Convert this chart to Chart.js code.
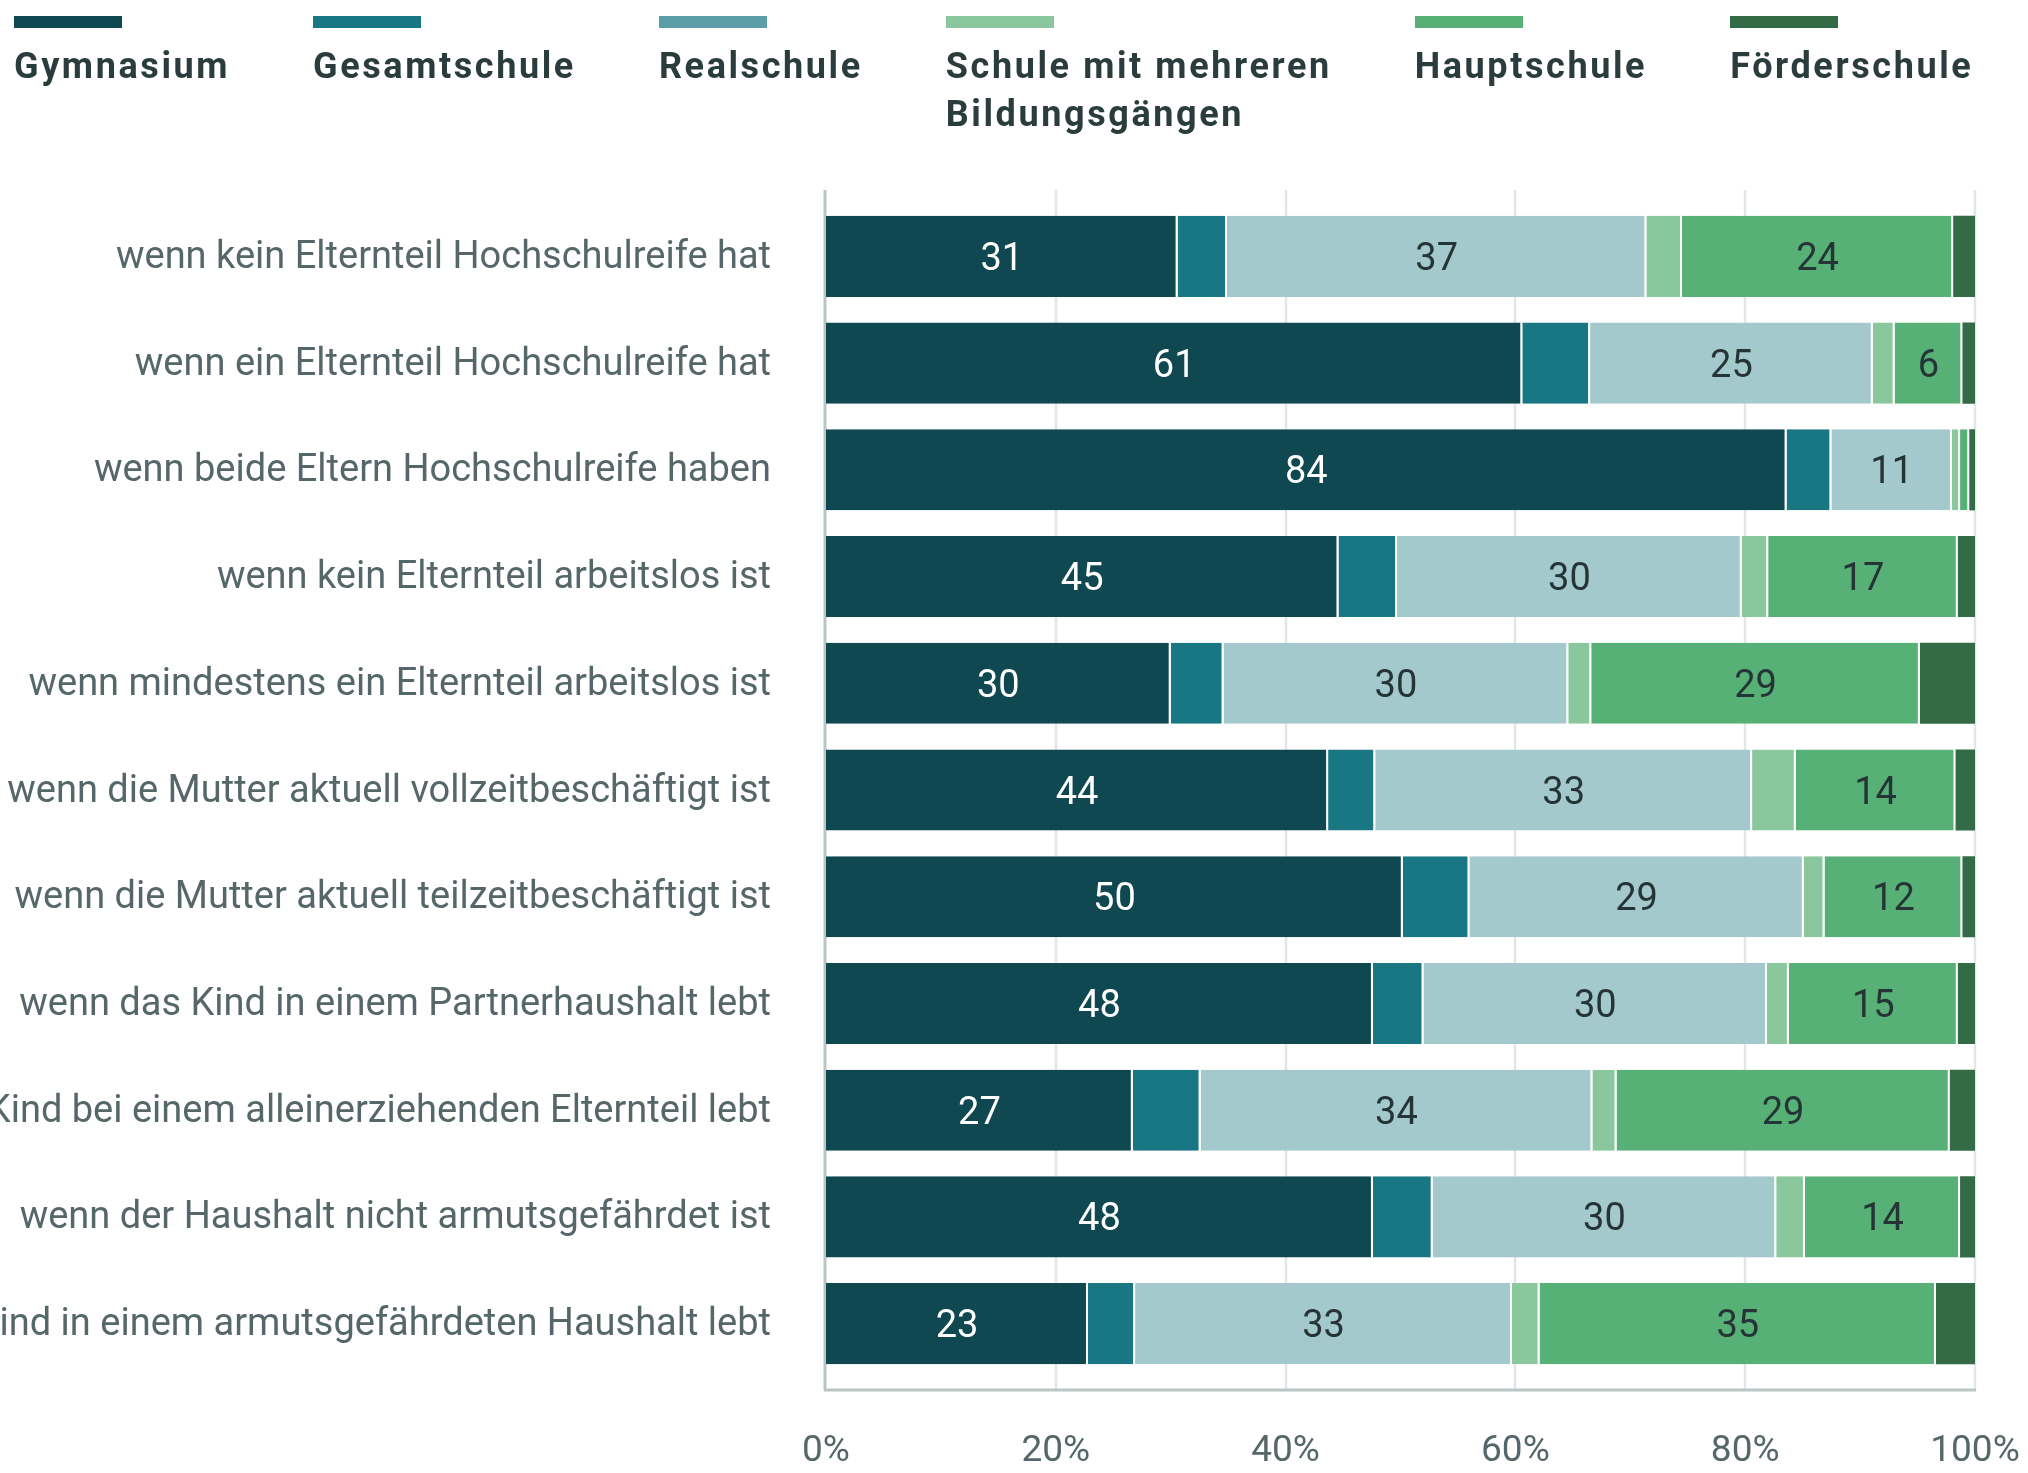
<!DOCTYPE html>
<html lang="de">
<head>
<meta charset="utf-8">
<title>Schulform nach Familienmerkmalen</title>
<script src="https://cdn.jsdelivr.net/npm/chart.js@4.4.1/dist/chart.umd.min.js"></script>
<style>
  body { margin: 0; background: #fff; }
  #wrap { position: relative; width: 2028px; height: 1473px; overflow: hidden; }
  #chart { position: absolute; left: 0; top: 0; }
  #legend { position: absolute; left: 14px; top: 0; display: flex; gap: 83px; align-items: flex-start;
            font-family: Roboto, "Noto Sans", sans-serif; font-weight: 700; font-size: 36px;
            letter-spacing: 2.6px; color: #2b3c3d; }
  .item .swatch { width: 108px; height: 12px; margin-top: 16px; }
  .item .text { margin-top: 14px; line-height: 48px; white-space: nowrap; }
</style>
</head>
<body>
<div id="wrap">
  <canvas id="chart" width="2028" height="1473"></canvas>
  <div id="legend"></div>
</div>
<script>
// Kategorien (y-Achse)
const categories = [
  "wenn kein Elternteil Hochschulreife hat",
  "wenn ein Elternteil Hochschulreife hat",
  "wenn beide Eltern Hochschulreife haben",
  "wenn kein Elternteil arbeitslos ist",
  "wenn mindestens ein Elternteil arbeitslos ist",
  "wenn die Mutter aktuell vollzeitbeschäftigt ist",
  "wenn die Mutter aktuell teilzeitbeschäftigt ist",
  "wenn das Kind in einem Partnerhaushalt lebt",
  "wenn das Kind bei einem alleinerziehenden Elternteil lebt",
  "wenn der Haushalt nicht armutsgefährdet ist",
  "wenn das Kind in einem armutsgefährdeten Haushalt lebt"
];

// Anteile in Prozent je Schulform
const gymnasium     = [30.6, 60.6, 83.6, 44.6, 30.0, 43.7, 50.2, 47.6, 26.7, 47.6, 22.8];
const gesamtschule  = [4.3, 5.9, 3.9, 5.1, 4.6, 4.1, 5.8, 4.4, 5.9, 5.2, 4.1];
const realschule    = [36.5, 24.6, 10.5, 30.0, 30.0, 32.8, 29.1, 29.9, 34.1, 29.9, 32.8];
const mehrereGaenge = [3.1, 1.9, 0.7, 2.3, 2.0, 3.8, 1.8, 1.9, 2.1, 2.5, 2.4];
const hauptschule   = [23.6, 5.9, 0.8, 16.5, 28.6, 13.9, 12.0, 14.7, 29.0, 13.5, 34.5];
const foerderschule = [1.9, 1.1, 0.5, 1.5, 4.8, 1.7, 1.1, 1.5, 2.2, 1.3, 3.4];

// x-Achse
const xTicks = [0, 20, 40, 60, 80, 100];

const series = [
  { name: "Gymnasium", lines: ["Gymnasium"], data: gymnasium, color: "#0f4850", legend: "#0f4850", label: "#ffffff" },
  { name: "Gesamtschule", lines: ["Gesamtschule"], data: gesamtschule, color: "#187783", legend: "#187783", label: null },
  { name: "Realschule", lines: ["Realschule"], data: realschule, color: "#a4c9cd", legend: "#5b9ea7", label: "#253536" },
  { name: "Schule mit mehreren Bildungsgängen", lines: ["Schule mit mehreren", "Bildungsgängen"], data: mehrereGaenge, color: "#8ac79c", legend: "#8ac79c", label: null },
  { name: "Hauptschule", lines: ["Hauptschule"], data: hauptschule, color: "#57b076", legend: "#57b076", label: "#253536" },
  { name: "Förderschule", lines: ["Förderschule"], data: foerderschule, color: "#336b47", legend: "#336b47", label: null }
];

// HTML-Legende oben
const legendEl = document.getElementById("legend");
series.forEach(s => {
  const item = document.createElement("div");
  item.className = "item";
  const sw = document.createElement("div");
  sw.className = "swatch";
  sw.style.background = s.legend;
  const txt = document.createElement("div");
  txt.className = "text";
  s.lines.forEach((l, i) => {
    if (i > 0) txt.appendChild(document.createElement("br"));
    txt.appendChild(document.createTextNode(l));
  });
  item.appendChild(sw);
  item.appendChild(txt);
  legendEl.appendChild(item);
});

const EXT = 13; // Gitter ragt etwas über die Kategorien hinaus

// Gitterlinien + Achsenlinien selbst zeichnen
const gridPlugin = {
  id: "gridPlugin",
  beforeDatasetsDraw(chart) {
    const { ctx, chartArea } = chart;
    const x = chart.scales.x;
    const top = chartArea.top - EXT;
    const bottom = chartArea.bottom + EXT;
    ctx.save();
    ctx.strokeStyle = "#e1e6e6";
    ctx.lineWidth = 2.5;
    xTicks.forEach(t => {
      if (t === 0) return;
      const px = Math.round(x.getPixelForValue(t));
      ctx.beginPath();
      ctx.moveTo(px, top);
      ctx.lineTo(px, bottom);
      ctx.stroke();
    });
    ctx.strokeStyle = "#bac5c6";
    ctx.lineWidth = 3;
    const x0 = x.getPixelForValue(0);
    ctx.beginPath();
    ctx.moveTo(x0 - 1, top);
    ctx.lineTo(x0 - 1, bottom);
    ctx.stroke();
    ctx.beginPath();
    ctx.moveTo(x0 - 2, bottom);
    ctx.lineTo(x.getPixelForValue(100) + 1, bottom);
    ctx.stroke();
    ctx.restore();
  }
};

// Zahlen in die Balken
const valueLabels = {
  id: "valueLabels",
  afterDatasetsDraw(chart) {
    const { ctx } = chart;
    ctx.save();
    ctx.font = "38px Roboto, 'Noto Sans', sans-serif";
    ctx.textAlign = "center";
    ctx.textBaseline = "middle";
    chart.data.datasets.forEach((ds, i) => {
      const s = series[i];
      if (!s.label) return;
      chart.getDatasetMeta(i).data.forEach((bar, j) => {
        const v = ds.data[j];
        if (v < 5) return;
        const cx = (bar.x + bar.base) / 2;
        ctx.fillStyle = s.label;
        ctx.fillText(String(Math.round(v)), cx, bar.y + 4);
      });
    });
    ctx.restore();
  }
};

const ctx = document.getElementById("chart").getContext("2d");
new Chart(ctx, {
  type: "bar",
  data: {
    labels: categories,
    datasets: series.map((s, i) => ({
      label: s.name,
      data: s.data,
      backgroundColor: s.color,
      borderColor: "#ffffff",
      borderWidth: i === series.length - 1 ? 0 : { right: 2, left: 0, top: 0, bottom: 0 },
      borderSkipped: false,
      barPercentage: 0.76,
      categoryPercentage: 1
    }))
  },
  options: {
    indexAxis: "y",
    responsive: false,
    animation: false,
    layout: { padding: { top: 203, right: 53, left: 0, bottom: 0 } },
    plugins: {
      legend: { display: false },
      tooltip: { enabled: false }
    },
    scales: {
      x: {
        stacked: true,
        min: 0,
        max: 100,
        afterBuildTicks: (scale) => { scale.ticks = xTicks.map(v => ({ value: v })); },
        afterFit: (scale) => {
          scale.height = 96;
          // Überstand der Randbeschriftungen nicht zusätzlich einrücken
          scale.paddingLeft = 0;
          scale.paddingRight = 0;
        },
        grid: { display: false, drawTicks: false },
        border: { display: false },
        ticks: {
          padding: 53,
          color: "#56676a",
          font: { family: "Roboto", size: 37 },
          maxRotation: 0,
          callback: (v) => v + "%"
        }
      },
      y: {
        stacked: true,
        afterFit: (scale) => { scale.width = 826; },
        grid: { display: false, drawTicks: false },
        border: { display: false },
        ticks: {
          padding: 55,
          labelOffset: 2,
          color: "#56676a",
          font: { family: "Roboto", size: 38 }
        }
      }
    }
  },
  plugins: [gridPlugin, valueLabels]
});
</script>
</body>
</html>
